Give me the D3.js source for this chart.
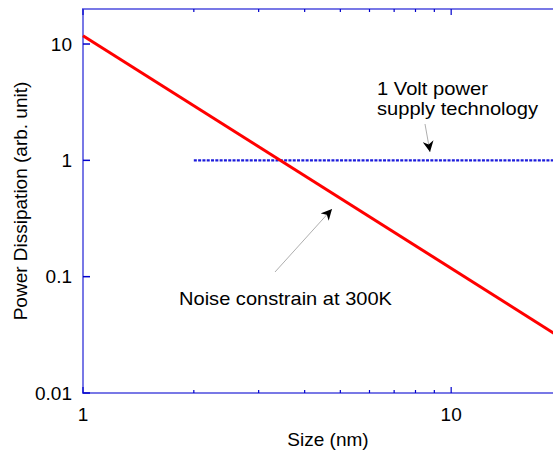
<!DOCTYPE html>
<html>
<head>
<meta charset="utf-8">
<script src="https://cdn.jsdelivr.net/npm/d3@7"></script>
<style>
	body { margin: 0; background: #fff; }
	svg text { font-family: 'Liberation Sans', Arial, sans-serif; fill: #000; }
</style>
</head>
<body>
<svg id="viz" width="553" height="452"></svg>
<script>
// data
var noiseSize = [ 1, 20 ];
var noisePower = [ 11.8, 0.0295 ];
var voltSize = [ 2, 20 ];
var voltPower = [ 1, 1 ];
var yTicks = [ 10, 1, 0.1, 0.01 ];
var yTickLabels = [ '10', '1', '0.1', '0.01' ];
var xMajor = [ 1, 10 ];
var xMinor = [ 2, 3, 4, 5, 6, 7, 8, 9 ];

var margin = { left: 83, top: 9 };
var w = 479, h = 384;

var svg = d3.select( '#viz' );
var g = svg.append( 'g' ).attr( 'transform', 'translate(' + margin.left + ',' + margin.top + ')' );

var x = d3.scaleLog().domain( [ 1, 20 ] ).range( [ 0, w ] );
var y = d3.scaleLog().domain( [ 0.01, 20 ] ).range( [ h, 0 ] );

var frame = '#7878e6';
var tickCol = '#0000cc';

// frame
g.append( 'rect' )
	.attr( 'x', 0 ).attr( 'y', 0 )
	.attr( 'width', w ).attr( 'height', h )
	.style( 'fill', 'none' )
	.style( 'stroke', frame )
	.style( 'stroke-width', 2 );

// left ticks
g.selectAll( 'line.ytick' )
	.data( yTicks )
	.enter()
	.append( 'line' )
	.attr( 'x1', 0 ).attr( 'x2', 7 )
	.attr( 'y1', function ( d ) { return y( d ); } )
	.attr( 'y2', function ( d ) { return y( d ); } )
	.style( 'stroke', tickCol ).style( 'stroke-width', 1.5 );

g.selectAll( 'text.ylab' )
	.data( yTicks )
	.enter()
	.append( 'text' )
	.attr( 'x', -11 )
	.attr( 'y', function ( d ) { return y( d ); } )
	.attr( 'dy', '0.35em' )
	.attr( 'text-anchor', 'end' )
	.style( 'font-size', '19px' )
	.text( function ( d, i ) { return yTickLabels[i]; } );

// bottom and top ticks
var xTicks = xMajor.map( function ( d ) { return { v: d, len: 6 }; } )
	.concat( xMinor.map( function ( d ) { return { v: d, len: 3 }; } ) );

g.selectAll( 'line.xbot' )
	.data( xTicks )
	.enter()
	.append( 'line' )
	.attr( 'x1', function ( d ) { return x( d.v ); } )
	.attr( 'x2', function ( d ) { return x( d.v ); } )
	.attr( 'y1', h ).attr( 'y2', function ( d ) { return h - d.len; } )
	.style( 'stroke', tickCol ).style( 'stroke-width', 1.2 );

g.selectAll( 'line.xtop' )
	.data( xTicks )
	.enter()
	.append( 'line' )
	.attr( 'x1', function ( d ) { return x( d.v ); } )
	.attr( 'x2', function ( d ) { return x( d.v ); } )
	.attr( 'y1', 0 ).attr( 'y2', function ( d ) { return d.len; } )
	.style( 'stroke', tickCol ).style( 'stroke-width', 1.2 );

g.selectAll( 'text.xlab' )
	.data( xMajor )
	.enter()
	.append( 'text' )
	.attr( 'x', function ( d ) { return x( d ); } )
	.attr( 'y', h + 28 )
	.attr( 'text-anchor', 'middle' )
	.style( 'font-size', '19px' )
	.text( function ( d ) { return d; } );

// axis titles
svg.append( 'text' )
	.attr( 'x', 328 ).attr( 'y', 446 )
	.attr( 'text-anchor', 'middle' )
	.style( 'font-size', '19px' )
	.text( 'Size (nm)' );

svg.append( 'text' )
	.attr( 'transform', 'translate(27,201) rotate(-90)' )
	.attr( 'text-anchor', 'middle' )
	.style( 'font-size', '19px' )
	.text( 'Power Dissipation (arb. unit)' );

// lines
var line = d3.line()
	.x( function ( d ) { return x( d[0] ); } )
	.y( function ( d ) { return y( d[1] ); } );

g.append( 'path' )
	.datum( d3.zip( voltSize, voltPower ) )
	.attr( 'd', line )
	.style( 'fill', 'none' )
	.style( 'stroke', '#1c1cdc' )
	.style( 'stroke-width', 2.2 )
	.style( 'stroke-dasharray', '3,1.3' );

g.append( 'path' )
	.datum( d3.zip( noiseSize, noisePower ) )
	.attr( 'd', line )
	.style( 'fill', 'none' )
	.style( 'stroke', '#ff0000' )
	.style( 'stroke-width', 3 );

// annotations
svg.append( 'defs' ).append( 'marker' )
	.attr( 'id', 'arr' )
	.attr( 'viewBox', '0 0 10 10' )
	.attr( 'refX', 10 ).attr( 'refY', 5 )
	.attr( 'markerWidth', 11 ).attr( 'markerHeight', 11 )
	.attr( 'markerUnits', 'userSpaceOnUse' )
	.attr( 'orient', 'auto' )
	.append( 'path' )
	.attr( 'd', 'M0,0 L10,5 L0,10 L3,5 Z' )
	.style( 'fill', '#000' );

svg.append( 'line' )
	.attr( 'x1', 425 ).attr( 'y1', 124 )
	.attr( 'x2', 430 ).attr( 'y2', 152 )
	.style( 'stroke', '#999' ).style( 'stroke-width', 0.8 )
	.attr( 'marker-end', 'url(#arr)' );

svg.append( 'line' )
	.attr( 'x1', 275 ).attr( 'y1', 272 )
	.attr( 'x2', 332 ).attr( 'y2', 209 )
	.style( 'stroke', '#999' ).style( 'stroke-width', 0.8 )
	.attr( 'marker-end', 'url(#arr)' );

var t1 = svg.append( 'text' ).style( 'font-size', '19px' );
t1.append( 'tspan' ).attr( 'x', 377 ).attr( 'y', 95 )
	.attr( 'textLength', 111 ).attr( 'lengthAdjust', 'spacingAndGlyphs' )
	.text( '1 Volt power' );
t1.append( 'tspan' ).attr( 'x', 377 ).attr( 'y', 115 )
	.attr( 'textLength', 161 ).attr( 'lengthAdjust', 'spacingAndGlyphs' )
	.text( 'supply technology' );

svg.append( 'text' )
	.attr( 'x', 179 ).attr( 'y', 305 )
	.style( 'font-size', '19px' )
	.attr( 'textLength', 213 ).attr( 'lengthAdjust', 'spacingAndGlyphs' )
	.text( 'Noise constrain at 300K' );
</script>
</body>
</html>
